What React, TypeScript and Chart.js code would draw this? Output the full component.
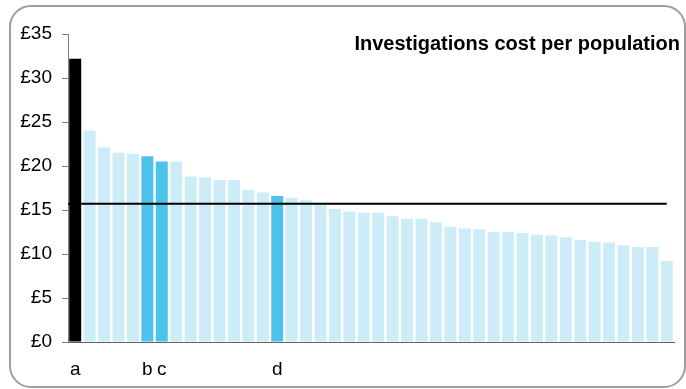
import React, { useEffect, useRef } from "react";
import { Chart, registerables } from "chart.js";

Chart.register(...registerables);

const categories = ["a", "", "", "", "", "b", "c", "", "", "", "", "", "", "", "d", "", "", "", "", "", "", "", "", "", "", "", "", "", "", "", "", "", "", "", "", "", "", "", "", "", "", ""];
const values = [32.2, 24.0, 22.1, 21.5, 21.4, 21.1, 20.5, 20.5, 18.8, 18.7, 18.4, 18.4, 17.3, 17.0, 16.6, 16.4, 16.1, 15.8, 15.1, 14.8, 14.7, 14.7, 14.3, 14.0, 14.0, 13.6, 13.1, 12.9, 12.8, 12.5, 12.5, 12.4, 12.2, 12.1, 11.9, 11.6, 11.4, 11.3, 11.0, 10.8, 10.8, 9.2];
const average = 15.7;
const highlightA = [0];
const highlightB = [5, 6, 14];
const titleText = "Investigations cost per population";
const yTicks = [0, 5, 10, 15, 20, 25, 30, 35];

const FONT = '"Liberation Sans", Arial, sans-serif';

export default function App() {
  const ref = useRef<HTMLCanvasElement>(null);
  useEffect(() => {
    const canvas = ref.current!;
    const colors = values.map((_, i) =>
      highlightA.includes(i) ? "#000000" : highlightB.includes(i) ? "#4BC3EA" : "#CCECF8"
    );
    const overlay = {
      id: "overlay",
      afterDatasetsDraw(chart: any) {
        const { ctx, chartArea, scales } = chart;
        const y = scales.y.getPixelForValue(average);
        const xEnd = scales.x.getPixelForValue(values.length - 1);
        ctx.save();
        ctx.strokeStyle = "#000";
        ctx.lineWidth = 2;
        ctx.beginPath();
        ctx.moveTo(chartArea.left, y);
        ctx.lineTo(xEnd, y);
        ctx.stroke();
        ctx.fillStyle = "#000";
        ctx.font = `bold 20px ${FONT}`;
        ctx.textAlign = "right";
        ctx.textBaseline = "alphabetic";
        ctx.fillText(titleText, 680, 50);
        ctx.restore();
      },
    };
    const chart = new Chart(canvas, {
      type: "bar",
      data: {
        labels: categories,
        datasets: [
          {
            data: values,
            backgroundColor: colors,
            borderWidth: 0,
            barPercentage: 0.83,
            categoryPercentage: 1,
          },
        ],
      },
      options: {
        animation: false,
        responsive: false,
        maintainAspectRatio: false,
        layout: { padding: { left: 0, right: 12, top: 34, bottom: 0 } },
        plugins: { legend: { display: false }, tooltip: { enabled: false }, title: { display: false } },
        scales: {
          x: {
            grid: { drawOnChartArea: false, drawTicks: false },
            border: { display: true, color: "#606060", width: 1 },
            ticks: {
              autoSkip: false,
              maxRotation: 0,
              padding: 16,
              color: "#000",
              font: { family: FONT, size: 19 },
            },
            afterFit: (s: any) => {
              s.height = 47;
            },
          },
          y: {
            min: 0,
            max: 35,
            afterBuildTicks: (s: any) => {
              s.ticks = yTicks.map((v) => ({ value: v }));
            },
            ticks: {
              padding: 10,
              color: "#000",
              font: { family: FONT, size: 19 },
              callback: (v: any) => "£" + v,
            },
            grid: { drawOnChartArea: false, drawTicks: true, tickLength: 6, color: "#808080" },
            border: { display: true, color: "#808080", width: 1 },
            afterFit: (s: any) => {
              s.width = 68;
            },
          },
        },
      },
      plugins: [overlay],
    });
    return () => chart.destroy();
  }, []);
  return (
    <div style={{ position: "fixed", left: 0, top: 0, width: 686, height: 389, background: "#fff" }}>
      <div
        style={{
          position: "absolute",
          left: 9,
          top: 5,
          width: 677,
          height: 383,
          boxSizing: "border-box",
          border: "2px solid #9E9E9E",
          borderRadius: 22,
        }}
      />
      <canvas ref={ref} width={686} height={389} style={{ position: "absolute", left: 0, top: 0, width: 686, height: 389 }} />
    </div>
  );
}
